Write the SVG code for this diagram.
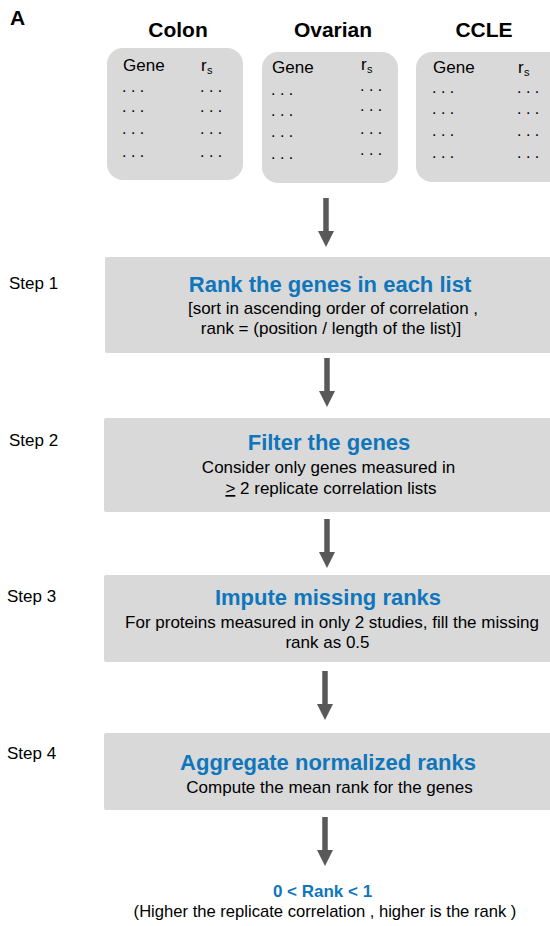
<svg xmlns="http://www.w3.org/2000/svg" xmlns:xlink="http://www.w3.org/1999/xlink" width="550" height="926" viewBox="0 0 550 926">
<style>
text{font-family:"Liberation Sans",Arial,sans-serif;fill:#000}
.hdr{font-size:21px;font-weight:bold}
.col{font-size:17px}
.sub{font-size:11px}
.dots{font-size:16px}
.card{fill:#d9d9d9}
.step{fill:#d9d9d9}
.lbl{font-size:17px}
.ttl{font-size:22px;font-weight:bold;fill:#0f76bc;text-anchor:middle}
.txt{font-size:17px;text-anchor:middle}
.res{font-size:17px;font-weight:bold;fill:#0f76bc;text-anchor:middle}
.arr{fill:#595959}
</style>
<defs>
<path id="arrow" d="M-2.75,0 H2.75 V33 H8 L0,49 L-8,33 H-2.75 Z"/>
</defs>
<rect width="550" height="926" fill="#fff"/>
<text x="10" y="25" class="hdr">A</text>

<g id="colon">
<text x="178" y="37" class="hdr" text-anchor="middle">Colon</text>
<rect class="card" x="107" y="48" width="136" height="132" rx="16"/>
<text x="123" y="71" class="col">Gene</text>
<text x="201" y="71" class="col">r</text><text x="207" y="74" class="sub">s</text>
<g class="dots">
<text x="122" y="92">. . .</text><text x="200" y="92">. . .</text>
<text x="122" y="112">. . .</text><text x="200" y="112">. . .</text>
<text x="122" y="134">. . .</text><text x="200" y="134">. . .</text>
<text x="122" y="157">. . .</text><text x="200" y="157">. . .</text>
</g>
</g>

<g id="ovarian">
<text x="333" y="37" class="hdr" text-anchor="middle">Ovarian</text>
<rect class="card" x="262" y="52" width="136" height="131" rx="16"/>
<text x="272" y="73" class="col">Gene</text>
<text x="361" y="70" class="col">r</text><text x="367" y="73" class="sub">s</text>
<g class="dots">
<text x="271" y="95">. . .</text><text x="360" y="91">. . .</text>
<text x="271" y="116">. . .</text><text x="360" y="111">. . .</text>
<text x="271" y="137">. . .</text><text x="360" y="134">. . .</text>
<text x="271" y="159">. . .</text><text x="360" y="155">. . .</text>
</g>
</g>

<g id="ccle">
<text x="484" y="37" class="hdr" text-anchor="middle">CCLE</text>
<rect class="card" x="416" y="52" width="150" height="130" rx="16"/>
<text x="433" y="73" class="col">Gene</text>
<text x="518" y="73" class="col">r</text><text x="524" y="76" class="sub">s</text>
<g class="dots">
<text x="432" y="93">. . .</text><text x="517" y="93">. . .</text>
<text x="432" y="114">. . .</text><text x="517" y="114">. . .</text>
<text x="432" y="136">. . .</text><text x="517" y="136">. . .</text>
<text x="432" y="158">. . .</text><text x="517" y="158">. . .</text>
</g>
</g>

<g id="step1">
<text x="9" y="289" class="lbl">Step 1</text>
<rect class="step" x="105" y="257" width="450" height="96" rx="2"/>
<text x="330" y="292" class="ttl">Rank the genes in each list</text>
<text x="333" y="314" class="txt">[sort in ascending order of correlation ,</text>
<text x="331" y="334" class="txt">rank = (position / length of the list)]</text>
</g>

<g id="step2">
<text x="9" y="446" class="lbl">Step 2</text>
<rect class="step" x="104" y="418" width="451" height="94" rx="2"/>
<text x="329" y="450" class="ttl">Filter the genes</text>
<text x="328.5" y="473" class="txt">Consider only genes measured in</text>
<text x="331" y="494" class="txt"><tspan text-decoration="underline">&gt;</tspan> 2 replicate correlation lists</text>
</g>

<g id="step3">
<text x="7" y="602" class="lbl">Step 3</text>
<rect class="step" x="104" y="575" width="451" height="87" rx="2"/>
<text x="328" y="605" class="ttl">Impute missing ranks</text>
<text x="332" y="628" class="txt">For proteins measured in only 2 studies, fill the missing</text>
<text x="327.5" y="648" class="txt">rank as 0.5</text>
</g>

<g id="step4">
<text x="7" y="759" class="lbl">Step 4</text>
<rect class="step" x="104" y="733" width="451" height="77" rx="2"/>
<text x="328" y="770" class="ttl">Aggregate normalized ranks</text>
<text x="329.5" y="793" class="txt">Compute the mean rank for the genes</text>
</g>

<g id="result">
<text x="322.5" y="897" class="res">0 &lt; Rank &lt; 1</text>
<text x="325" y="917" class="txt" style="font-size:16.6px">(Higher the replicate correlation , higher is the rank )</text>
</g>

<g id="connectors" class="arr">
<use xlink:href="#arrow" x="326" y="198"/>
<use xlink:href="#arrow" x="327" y="358"/>
<use xlink:href="#arrow" x="327" y="519"/>
<use xlink:href="#arrow" x="325" y="671"/>
<use xlink:href="#arrow" x="325" y="817"/>
</g>
</svg>
